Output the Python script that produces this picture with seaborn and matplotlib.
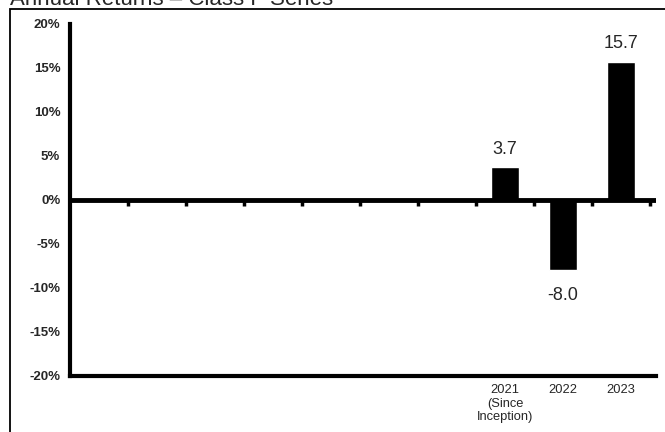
import pandas as pd
import matplotlib.pyplot as plt
import seaborn as sns
import numpy as np
from matplotlib.patches import Rectangle

# Data
slots = ["_0", "_1", "_2", "_3", "_4", "_5", "_6"]
years = ["2021\n(Since\nInception)", "2022", "2023"]
returns = [3.7, -8.0, 15.7]
yticks = [-20, -15, -10, -5, 0, 5, 10, 15, 20]

sns.set_style("white")
plt.rcParams['font.family'] = ['Liberation Sans', 'DejaVu Sans']

df = pd.DataFrame({'year': years, 'ret': returns})
order = slots + years

fig = plt.figure(figsize=(6.65, 4.32), dpi=100)
ax = fig.add_axes([70/665, 1 - 376/432, (656 - 70)/665, (376 - 24)/432])

sns.barplot(data=df, x='year', y='ret', order=order, color='black',
            width=0.48, ax=ax, saturation=1)

ax.set_xlim(-0.5, len(order) - 0.4)
ax.set_ylim(-20, 20)
ax.set_yticks(yticks)
ax.set_yticklabels([f"{v}%" for v in yticks], fontsize=9.5, fontweight='bold')
ax.set_xticks(range(len(order)))
ax.set_xticklabels([""] * len(slots) + years, fontsize=9.3, linespacing=1.15)
ax.tick_params(axis='x', length=0, pad=6)
ax.tick_params(axis='y', length=3, width=2.5, direction='out', pad=4, color='black')
ax.set_xlabel('')
ax.set_ylabel('')

for s in ['top', 'right']:
    ax.spines[s].set_visible(False)
for s in ['left', 'bottom']:
    ax.spines[s].set_linewidth(3)
    ax.spines[s].set_color('black')

# zero line with slot-boundary ticks
ax.axhline(0, color='black', linewidth=3.5, zorder=3)
zero = ax.secondary_xaxis(0.5)
zero.xaxis.set_ticks_position('bottom')
zero.set_xticks([i + 0.5 for i in range(len(order))])
zero.set_xticklabels([])
zero.tick_params(length=4, width=2.5, direction='out', color='black')
for s in zero.spines.values():
    s.set_visible(False)

# value labels
for i, v in enumerate(returns):
    x = len(slots) + i
    if v >= 0:
        ax.annotate(f"{v:.1f}", (x, v), xytext=(0, 7), textcoords='offset points',
                    ha='center', va='bottom', fontsize=13)
    else:
        ax.annotate(f"{v:.1f}", (x, v), xytext=(0, -12), textcoords='offset points',
                    ha='center', va='top', fontsize=13)

# frame and title
fig.patches.append(Rectangle((10/665, -0.1), 1.1, 1 - 9/432 + 0.1, transform=fig.transFigure,
                             fill=False, edgecolor='black', linewidth=1.3))
fig.text(10/665, 1 - 5/432, "Annual Returns \u2013 Class F Series", fontsize=16,
         ha='left', va='baseline')

plt.savefig('out.png', dpi=100)
